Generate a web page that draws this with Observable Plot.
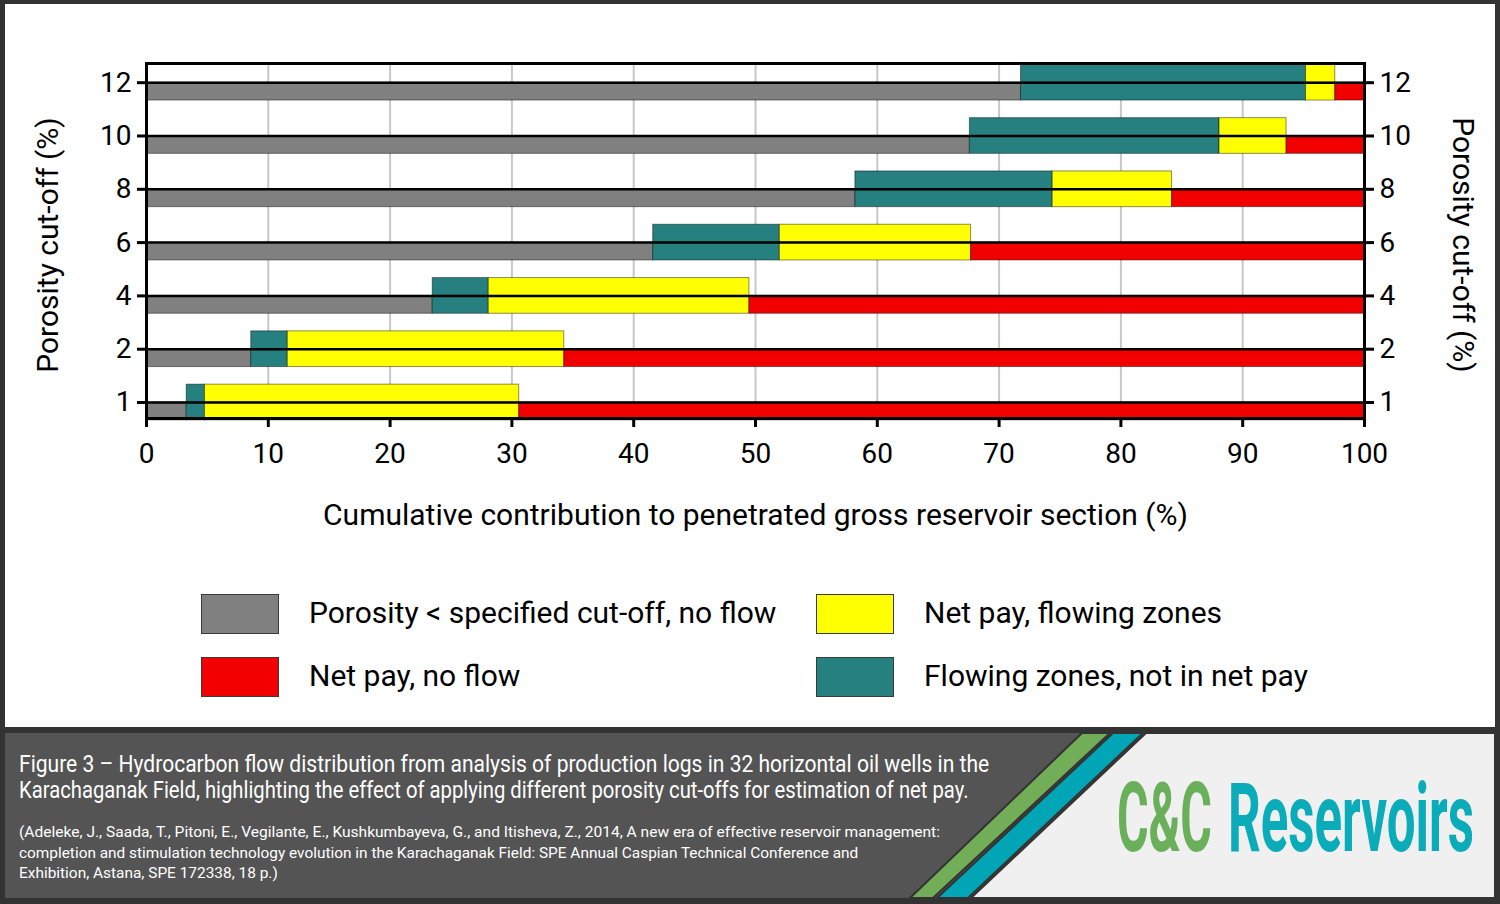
<!DOCTYPE html>
<html><head><meta charset="utf-8">
<script src="https://cdn.jsdelivr.net/npm/d3@7"></script>
<script src="https://cdn.jsdelivr.net/npm/@observablehq/plot@0.6"></script>
<style>
body{margin:0;background:#333;}
#page{position:relative;width:1500px;height:904px;background:#333;overflow:hidden;font-family:Roboto,sans-serif;}
#white{position:absolute;left:5px;top:4px;width:1490px;height:723px;background:#fff;}
#chart{position:absolute;left:0;top:0;}
#chart svg{max-width:none;}
.sw{position:absolute;width:78px;height:40px;box-sizing:border-box;border:1.5px solid #3a3a3a;}
.lt{position:absolute;font-size:30px;line-height:40px;color:#000;white-space:nowrap;}
#footer{position:absolute;left:5px;top:733px;}
</style></head>
<body><div id="page"><div id="white"><div id="chart"></div></div><div id="legend"></div><svg id="footer" width="1490" height="165"></svg></div>
<script>
// ---- data ----
const cutoffs = [1, 2, 4, 6, 8, 10, 12];
const belowCutoff = [3.3, 8.6, 23.5, 41.6, 58.2, 67.6, 71.8];   // grey
const flowNotNet  = [1.5, 3.0, 4.6, 10.4, 16.2, 20.5, 23.4];    // teal
const netFlowing  = [25.8, 22.7, 21.4, 15.7, 9.8, 5.5, 2.4];    // yellow
const netNoFlow   = [69.4, 65.7, 50.5, 32.3, 15.8, 6.4, 2.4];   // red
const xTicks = [0, 10, 20, 30, 40, 50, 60, 70, 80, 90, 100];
const seriesNames = ["Porosity < specified cut-off, no flow", "Flowing zones, not in net pay", "Net pay, flowing zones", "Net pay, no flow"];
const seriesColors = ["#808080", "#268080", "#ffff00", "#f20000"];
const flowing = [false, true, true, false];
const xLabel = "Cumulative contribution to penetrated gross reservoir section (%)";
const yLabel = "Porosity cut-off (%)";
const captionLines = ["Figure 3 – Hydrocarbon flow distribution from analysis of production logs in 32 horizontal oil wells in the",
  "Karachaganak Field, highlighting the effect of applying different porosity cut-offs for estimation of net pay."];
const refLines = ["(Adeleke, J., Saada, T., Pitoni, E., Vegilante, E., Kushkumbayeva, G., and Itisheva, Z., 2014, A new era of effective reservoir management:",
  "completion and stimulation technology evolution in the Karachaganak Field: SPE Annual Caspian Technical Conference and",
  "Exhibition, Astana, SPE 172338, 18 p.)"];

// ---- build segments ----
const half = 0.335;
const series = [belowCutoff, flowNotNet, netFlowing, netNoFlow];
const segs = [];
cutoffs.forEach((c, i) => {
  let acc = 0;
  series.forEach((arr, s) => {
    const x1 = acc, x2 = acc + arr[i];
    acc = x2;
    segs.push({series: seriesNames[s], x1, x2, y1: i - half, y2: i});
    if (flowing[s]) segs.push({series: seriesNames[s], x1, x2, y1: i, y2: i + half});
  });
});
const idx = cutoffs.map((c, i) => i);

const chart = Plot.plot({
  width: 1490, height: 540,
  marginLeft: 141, marginRight: 131, marginTop: 59, marginBottom: 126,
  style: {fontFamily: "Roboto, sans-serif", fontSize: "28px", color: "#000", background: "transparent"},
  x: {domain: [0, 100]},
  y: {domain: [-0.30, 6.36]},
  color: {domain: seriesNames, range: seriesColors},
  marks: [
    Plot.gridX(xTicks.slice(1, -1), {stroke: "#c8c8c8", strokeOpacity: 1, strokeWidth: 2}),
    Plot.rect(segs, {x1: "x1", x2: "x2", y1: "y1", y2: "y2", fill: "series", stroke: "#000", strokeOpacity: 0.45, strokeWidth: 1}),
    Plot.ruleY(idx, {stroke: "#000", strokeWidth: 2.5}),
    Plot.frame({stroke: "#000", strokeWidth: 3}),
    Plot.axisX(xTicks, {tickSize: 9, tickPadding: 16, fontSize: 28, strokeWidth: 3, label: null}),
    Plot.axisY(idx, {anchor: "left", tickFormat: i => cutoffs[i], tickSize: 9, tickPadding: 6, fontSize: 28, strokeWidth: 3, label: null}),
    Plot.axisY(idx, {anchor: "right", tickFormat: i => cutoffs[i], tickSize: 9, tickPadding: 6, fontSize: 28, strokeWidth: 3, label: null}),
    Plot.text([xLabel], {frameAnchor: "bottom", dy: 97, fontSize: 30, lineAnchor: "middle", textAnchor: "middle"}),
    Plot.text([yLabel], {frameAnchor: "left", dx: -98, dy: 4, rotate: -90, fontSize: 30, lineAnchor: "middle", textAnchor: "middle"}),
    Plot.text([yLabel], {frameAnchor: "right", dx: 98, dy: 4, rotate: 90, fontSize: 30, lineAnchor: "middle", textAnchor: "middle"})
  ]
});
document.getElementById("chart").appendChild(chart);

// ---- legend (HTML) ----
const legendPos = [[201, 594], [816, 657], [816, 594], [201, 657]];
const leg = document.getElementById("legend");
seriesNames.forEach((name, s) => {
  const [lx, ly] = legendPos[s];
  const sw = document.createElement("div");
  sw.className = "sw"; sw.style.left = lx + "px"; sw.style.top = ly + "px"; sw.style.background = seriesColors[s];
  leg.appendChild(sw);
  const t = document.createElement("div");
  t.className = "lt"; t.style.left = (lx + 108) + "px"; t.style.top = (ly - 1) + "px"; t.textContent = name;
  leg.appendChild(t);
});

// ---- footer ----
const f = d3.select("#footer");
f.append("rect").attr("width", 1490).attr("height", 165).attr("fill", "#545454");
const H = 165;
f.append("polygon").attr("points", `${1077},0 ${1105},0 ${928},${H} ${905},${H}`).attr("fill", "#72ad57").attr("stroke", "#333").attr("stroke-width", 2);
f.append("polygon").attr("points", `${1108},0 ${1138},0 ${963},${H} ${932},${H}`).attr("fill", "#00a6b6").attr("stroke", "#333").attr("stroke-width", 2);
f.append("polygon").attr("points", `${1141},0 1490,0 1490,${H} ${966},${H}`).attr("fill", "#f0f0f0").attr("stroke", "#333").attr("stroke-width", 2);

// text squeezed horizontally to a target width (condensed look)
function squeezed(str, x, y, size, width, fill, weight) {
  const t = f.append("text").attr("font-family", "Roboto").attr("font-size", size).attr("fill", fill)
    .attr("font-weight", weight || "normal").text(str);
  const natural = t.node().getComputedTextLength();
  t.attr("transform", `translate(${x},${y}) scale(${width / natural},1)`);
  return t;
}
const capW = [971, 950];
captionLines.forEach((l, k) => squeezed(l, 14, 39 + k * 26, 23, capW[k], "#fff"));
const refW = [922, 840, 259];
refLines.forEach((l, k) => squeezed(l, 14, 104 + k * 20.5, 15.5, refW[k], "#fff"));
squeezed("C&C", 1112, 118, 97, 95, "#6ab05a", "bold");
squeezed("Reservoirs", 1223, 118, 97, 246, "#0aacb9", "bold");
</script>
</body></html>
